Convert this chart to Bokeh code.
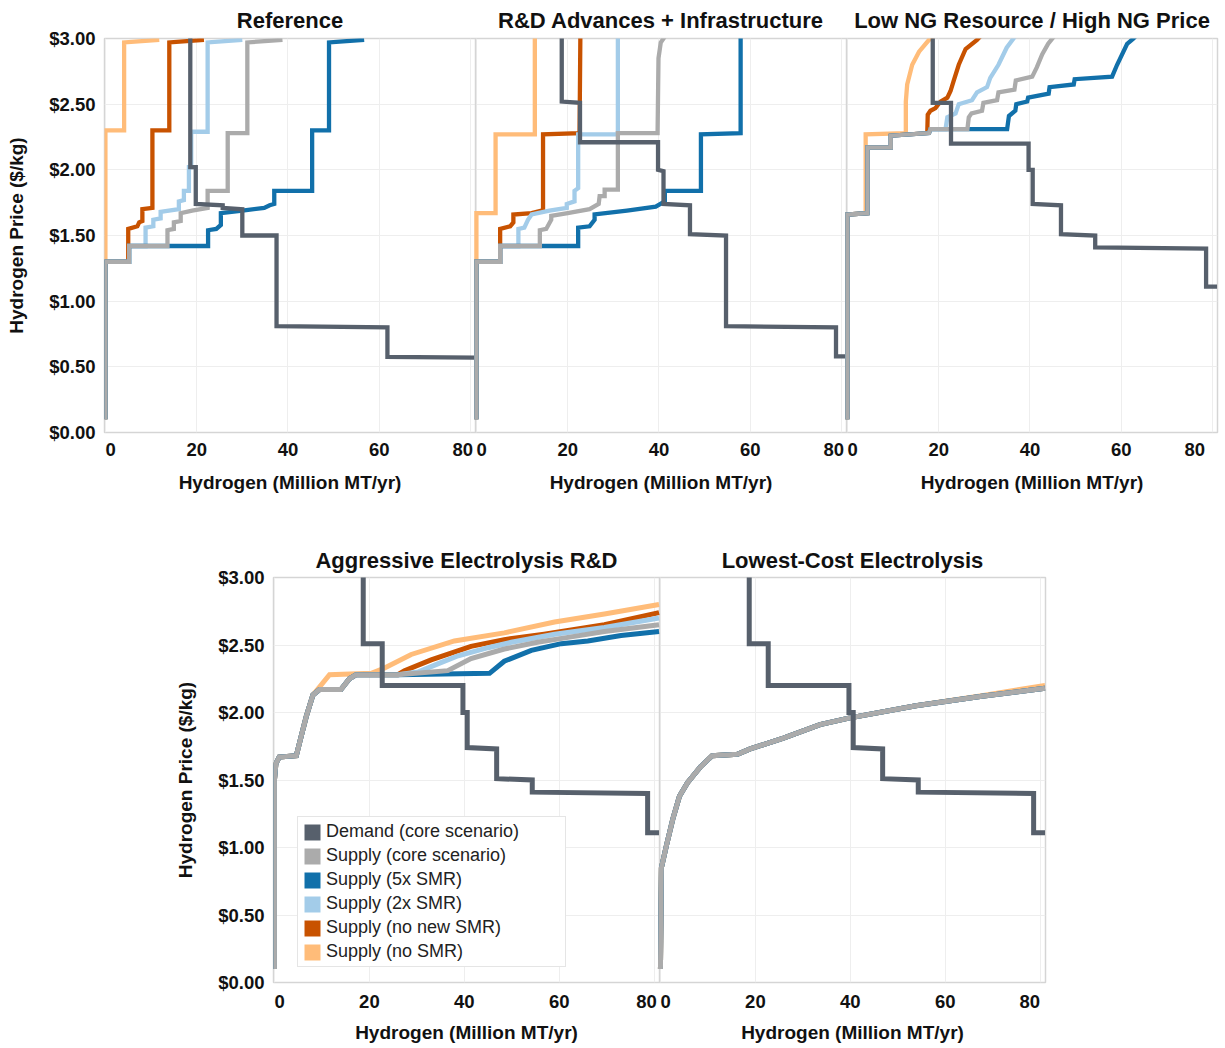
from bokeh.plotting import figure
from bokeh.models import (ColumnDataSource, Range1d, FixedTicker, NumeralTickFormatter,
                          Span, Legend, LegendItem, LinearAxis)
from bokeh.transform import dodge
from bokeh.embed import file_html
from bokeh.resources import INLINE

# ---------------- data ----------------
x_ticks = [0, 20, 40, 60, 80]
y_ticks = [0.0, 0.5, 1.0, 1.5, 2.0, 2.5, 3.0]

top_titles = ["Reference", "R&D Advances + Infrastructure", "Low NG Resource / High NG Price"]
bottom_titles = ["Aggressive Electrolysis R&D", "Lowest-Cost Electrolysis"]
x_title = "Hydrogen (Million MT/yr)"
y_title = "Hydrogen Price ($/kg)"

series_labels = ["Demand (core scenario)", "Supply (core scenario)", "Supply (5x SMR)",
                 "Supply (2x SMR)", "Supply (no new SMR)", "Supply (no SMR)"]

# Reference
ref_demand_x = [18.6, 18.6, 19.8, 19.8, 25.7, 25.7, 30.0, 30.0, 37.5, 37.5, 61.8, 61.8, 81.0]
ref_demand_y = [3.10, 2.02, 2.02, 1.74, 1.73, 1.71, 1.70, 1.50, 1.50, 0.81, 0.80, 0.575, 0.57]
ref_core_x = [0, 0, 5.2, 5.2, 13.6, 13.6, 15.0, 15.0, 16.5, 16.5, 19.0, 22.4, 22.4, 26.8, 26.8, 31.1, 31.1, 38.8]
ref_core_y = [0.1, 1.30, 1.30, 1.42, 1.42, 1.54, 1.55, 1.60, 1.61, 1.67, 1.69, 1.71, 1.84, 1.84, 2.28, 2.28, 2.97, 2.99]
ref_smr5_x = [0, 0, 5.2, 5.2, 22.5, 22.5, 24.3, 25.3, 25.3, 30.0, 34.8, 36.0, 37.0, 37.0, 45.3, 45.3, 49.0, 49.0, 56.7]
ref_smr5_y = [0.1, 1.30, 1.30, 1.42, 1.42, 1.54, 1.55, 1.58, 1.67, 1.69, 1.71, 1.73, 1.74, 1.84, 1.84, 2.30, 2.30, 2.97, 2.99]
ref_smr2_x = [0, 0, 5.2, 5.2, 8.8, 8.8, 10.5, 10.5, 12.1, 12.1, 16.1, 16.1, 17.2, 17.2, 18.3, 18.3, 18.8, 18.8, 22.4, 22.4, 30.0]
ref_smr2_y = [0.1, 1.30, 1.30, 1.42, 1.42, 1.56, 1.57, 1.62, 1.63, 1.68, 1.70, 1.76, 1.77, 1.84, 1.84, 2.02, 2.02, 2.29, 2.29, 2.97, 2.99]
ref_nonew_x = [0, 0, 5.0, 5.0, 7.0, 7.4, 8.1, 8.1, 10.3, 10.3, 14.0, 14.0, 21.6]
ref_nonew_y = [0.1, 1.30, 1.30, 1.55, 1.57, 1.60, 1.61, 1.70, 1.71, 2.30, 2.30, 2.97, 2.99]
ref_nosmr_x = [0, 0, 4.1, 4.1, 11.8]
ref_nosmr_y = [0.1, 2.30, 2.30, 2.97, 2.99]

# R&D Advances + Infrastructure
rdi_demand_x = [18.7, 18.7, 22.7, 22.7, 39.8, 39.8, 41.0, 41.0, 46.8, 46.8, 54.7, 54.7, 78.8, 78.8, 81.0]
rdi_demand_y = [3.10, 2.52, 2.51, 2.21, 2.21, 2.00, 1.99, 1.74, 1.73, 1.51, 1.50, 0.81, 0.80, 0.58, 0.58]
rdi_core_x = [0, 0, 5.2, 5.2, 13.9, 13.9, 15.3, 16.4, 16.4, 20.0, 24.8, 26.8, 27.0, 28.1, 28.1, 31.0, 31.0, 39.7, 39.9, 40.4, 41.6]
rdi_core_y = [0.1, 1.30, 1.30, 1.42, 1.42, 1.54, 1.55, 1.62, 1.65, 1.67, 1.70, 1.74, 1.80, 1.80, 1.85, 1.85, 2.28, 2.28, 2.85, 2.97, 3.03]
rdi_smr5_x = [0, 0, 5.2, 5.2, 22.3, 22.3, 24.8, 25.9, 25.9, 33.0, 39.3, 40.8, 41.3, 41.3, 49.2, 49.2, 57.9, 57.9]
rdi_smr5_y = [0.1, 1.30, 1.30, 1.42, 1.42, 1.56, 1.57, 1.62, 1.66, 1.69, 1.72, 1.75, 1.76, 1.84, 1.84, 2.27, 2.28, 3.10]
rdi_smr2_x = [0, 0, 5.2, 5.2, 9.2, 9.2, 10.5, 11.3, 12.1, 16.0, 19.8, 19.8, 21.5, 21.5, 22.3, 22.3, 31.0, 31.0]
rdi_smr2_y = [0.1, 1.30, 1.30, 1.42, 1.42, 1.55, 1.56, 1.62, 1.66, 1.69, 1.71, 1.74, 1.76, 1.84, 1.86, 2.27, 2.27, 3.10]
rdi_nonew_x = [0, 0, 5.2, 5.2, 7.4, 8.1, 8.1, 12.1, 14.3, 14.6, 14.6, 22.6, 22.8]
rdi_nonew_y = [0.1, 1.30, 1.30, 1.55, 1.57, 1.60, 1.66, 1.67, 1.69, 1.70, 2.27, 2.28, 3.10]
rdi_nosmr_x = [0, 0, 4.2, 4.2, 12.8, 12.8]
rdi_nosmr_y = [0.1, 1.67, 1.67, 2.27, 2.27, 3.10]

# Core demand (used in the last three scenarios)
core_demand_x = [18.7, 18.7, 22.7, 22.7, 39.7, 39.7, 40.6, 40.6, 46.8, 46.8, 54.3, 54.3, 78.6, 78.6, 81.0]
core_demand_y = [3.10, 2.51, 2.51, 2.20, 2.20, 2.00, 2.00, 1.74, 1.73, 1.51, 1.50, 1.41, 1.40, 1.11, 1.11]

# Low NG Resource / High NG Price
lng_core_x = [0, 0, 4.4, 4.4, 9.5, 9.5, 17.9, 18.2, 26.3, 26.6, 27.2, 29.5, 29.8, 32.8, 33.1, 36.6, 36.9, 40.5, 41.5, 42.7, 44.0, 45.6]
lng_core_y = [0.1, 1.66, 1.67, 2.17, 2.17, 2.26, 2.28, 2.31, 2.31, 2.40, 2.43, 2.45, 2.51, 2.53, 2.59, 2.61, 2.68, 2.71, 2.78, 2.88, 2.96, 3.03]
lng_smr5_x = [0, 0, 4.4, 4.4, 9.5, 9.5, 17.9, 18.2, 35.0, 35.4, 36.8, 37.0, 39.4, 39.6, 44.1, 44.3, 49.6, 49.8, 58.0, 59.1, 61.3, 62.7, 63.5]
lng_smr5_y = [0.1, 1.66, 1.67, 2.17, 2.17, 2.26, 2.28, 2.31, 2.31, 2.41, 2.45, 2.50, 2.52, 2.55, 2.58, 2.63, 2.65, 2.69, 2.71, 2.80, 2.96, 3.00, 3.03]
lng_smr2_x = [0, 0, 4.4, 4.4, 9.5, 9.5, 17.9, 18.2, 21.5, 21.9, 23.7, 24.4, 27.3, 28.4, 30.6, 31.3, 33.1, 34.9, 36.4, 37.5]
lng_smr2_y = [0.1, 1.66, 1.67, 2.17, 2.17, 2.26, 2.28, 2.31, 2.31, 2.40, 2.43, 2.50, 2.53, 2.59, 2.63, 2.70, 2.80, 2.93, 3.00, 3.05]
lng_nonew_x = [0, 0, 4.4, 4.4, 9.5, 9.5, 17.5, 17.6, 18.2, 19.3, 20.4, 21.9, 22.6, 23.3, 24.4, 25.9, 28.4, 29.5]
lng_nonew_y = [0.1, 1.66, 1.67, 2.17, 2.17, 2.26, 2.28, 2.42, 2.45, 2.47, 2.52, 2.55, 2.60, 2.68, 2.80, 2.92, 2.99, 3.03]
lng_nosmr_x = [0, 0, 4.0, 4.0, 12.8, 12.8, 13.1, 14.2, 15.7, 17.9, 19.0]
lng_nosmr_y = [0.1, 1.66, 1.67, 2.27, 2.28, 2.52, 2.65, 2.80, 2.90, 2.99, 3.03]

# Aggressive Electrolysis R&D
aer_core_x = [0, 0, 0.3, 1.0, 4.6, 5.6, 6.7, 8.1, 9.5, 14.0, 15.8, 17.2, 26.0, 36.5, 41.4, 48.4, 55.4, 62.5, 69.5, 81.0]
aer_core_y = [0.1, 1.50, 1.62, 1.67, 1.68, 1.82, 1.97, 2.13, 2.17, 2.17, 2.25, 2.28, 2.28, 2.31, 2.40, 2.47, 2.52, 2.56, 2.60, 2.65]
aer_smr5_x = [0, 0, 0.3, 1.0, 4.6, 5.6, 6.7, 8.1, 9.5, 14.0, 15.8, 17.2, 26.0, 45.3, 48.4, 54.1, 60.4, 66.0, 73.0, 81.0]
aer_smr5_y = [0.1, 1.50, 1.62, 1.67, 1.68, 1.82, 1.97, 2.13, 2.17, 2.17, 2.25, 2.28, 2.28, 2.29, 2.38, 2.46, 2.51, 2.53, 2.57, 2.60]
aer_smr2_x = [0, 0, 0.3, 1.0, 4.6, 5.6, 6.7, 8.1, 9.5, 14.0, 15.8, 17.2, 26.0, 30.2, 34.4, 38.7, 45.0, 49.9, 59.0, 69.5, 81.0]
aer_smr2_y = [0.1, 1.50, 1.62, 1.67, 1.68, 1.82, 1.97, 2.13, 2.17, 2.17, 2.25, 2.28, 2.28, 2.30, 2.36, 2.42, 2.48, 2.52, 2.58, 2.63, 2.70]
aer_nonew_x = [0, 0, 0.3, 1.0, 4.6, 5.6, 6.7, 8.1, 9.5, 14.0, 15.8, 17.2, 26.0, 27.4, 33.0, 41.4, 48.4, 56.8, 69.5, 81.0]
aer_nonew_y = [0.1, 1.50, 1.62, 1.67, 1.68, 1.82, 1.97, 2.13, 2.17, 2.17, 2.25, 2.28, 2.28, 2.31, 2.39, 2.49, 2.54, 2.58, 2.65, 2.74]
aer_nosmr_x = [0, 0, 0.3, 1.0, 4.6, 5.6, 6.7, 8.1, 9.3, 11.6, 20.4, 23.2, 28.8, 37.9, 48.4, 59.0, 69.5, 81.0]
aer_nosmr_y = [0.1, 1.50, 1.62, 1.67, 1.68, 1.82, 1.97, 2.13, 2.18, 2.28, 2.29, 2.33, 2.43, 2.53, 2.59, 2.67, 2.73, 2.80]

# Lowest-Cost Electrolysis (all supply cases coincide)
lce_supply_x = [0, 0.2, 1.3, 2.6, 4.0, 5.7, 8.5, 10.9, 16.2, 18.9, 25.9, 33.6, 39.9, 53.8, 67.7, 81.0]
lce_supply_y = [0.1, 0.85, 1.02, 1.21, 1.38, 1.48, 1.60, 1.68, 1.69, 1.73, 1.81, 1.91, 1.96, 2.05, 2.12, 2.18]
lce_nosmr_y = [0.1, 0.85, 1.02, 1.21, 1.38, 1.48, 1.60, 1.68, 1.69, 1.73, 1.81, 1.91, 1.96, 2.05, 2.125, 2.20]

# ---------------- styling ----------------
FONT = "Liberation Sans"
TXT = "#111111"
C_DEMAND = "#57606c"
C_CORE = "#ababab"
C_SMR5 = "#1170aa"
C_SMR2 = "#a3cce9"
C_NONEW = "#c85200"
C_NOSMR = "#ffbc79"
series_colors = [C_DEMAND, C_CORE, C_SMR5, C_SMR2, C_NONEW, C_NOSMR]

W = 81.3      # width of one small multiple (data units)
X0 = -0.2     # left edge of a panel relative to its own zero
NB = "\u00a0"

top_panels = [
    [(ref_nosmr_x, ref_nosmr_y, C_NOSMR), (ref_nonew_x, ref_nonew_y, C_NONEW), (ref_smr2_x, ref_smr2_y, C_SMR2),
     (ref_smr5_x, ref_smr5_y, C_SMR5), (ref_core_x, ref_core_y, C_CORE), (ref_demand_x, ref_demand_y, C_DEMAND)],
    [(rdi_nosmr_x, rdi_nosmr_y, C_NOSMR), (rdi_nonew_x, rdi_nonew_y, C_NONEW), (rdi_smr2_x, rdi_smr2_y, C_SMR2),
     (rdi_smr5_x, rdi_smr5_y, C_SMR5), (rdi_core_x, rdi_core_y, C_CORE), (rdi_demand_x, rdi_demand_y, C_DEMAND)],
    [(lng_nosmr_x, lng_nosmr_y, C_NOSMR), (lng_nonew_x, lng_nonew_y, C_NONEW), (lng_smr2_x, lng_smr2_y, C_SMR2),
     (lng_smr5_x, lng_smr5_y, C_SMR5), (lng_core_x, lng_core_y, C_CORE), (core_demand_x, core_demand_y, C_DEMAND)],
]
bottom_panels = [
    [(aer_nosmr_x, aer_nosmr_y, C_NOSMR), (aer_nonew_x, aer_nonew_y, C_NONEW), (aer_smr2_x, aer_smr2_y, C_SMR2),
     (aer_smr5_x, aer_smr5_y, C_SMR5), (aer_core_x, aer_core_y, C_CORE), (core_demand_x, core_demand_y, C_DEMAND)],
    [(lce_supply_x, lce_nosmr_y, C_NOSMR), (lce_supply_x, lce_supply_y, C_NONEW), (lce_supply_x, lce_supply_y, C_SMR2),
     (lce_supply_x, lce_supply_y, C_SMR5), (lce_supply_x, lce_supply_y, C_CORE), (core_demand_x, core_demand_y, C_DEMAND)],
]


def plain_axis(ax):
    ax.axis_line_color = None
    ax.major_tick_line_color = None
    ax.minor_tick_line_color = None
    ax.major_tick_out = 0
    ax.major_tick_in = 0
    ax.major_label_text_font = FONT
    ax.major_label_text_font_style = "bold"
    ax.major_label_text_color = TXT


def make_row(panels, titles, width, height, mb_left, mb_right, mb_top, mb_bottom,
             line_w, x_standoff, title_standoff, xlab_standoff):
    n = len(panels)
    p = figure(width=width, height=height, x_range=Range1d(X0, n * W + X0), y_range=Range1d(0, 3.0),
               output_backend="svg", toolbar_location=None, title=None,
               min_border_left=mb_left, min_border_right=mb_right,
               min_border_top=mb_top, min_border_bottom=mb_bottom)
    p.background_fill_color = "white"
    p.border_fill_color = "white"
    p.outline_line_color = "#d5d5d5"
    p.outline_line_width = 1.5

    ticks = []
    overrides = {}
    for k in range(n):
        for t in x_ticks:
            key = round(k * W + t, 4)
            ticks.append(key)
            lab = str(t)
            if t == 0:
                lab = NB * 2 + lab
            if t == x_ticks[-1]:
                lab = lab + NB * 3
            overrides[key] = lab
    p.xaxis.ticker = FixedTicker(ticks=ticks)
    p.xaxis.major_label_overrides = overrides
    p.yaxis.ticker = FixedTicker(ticks=y_ticks)
    p.yaxis.formatter = NumeralTickFormatter(format="$0.00")

    for ax in (p.xaxis[0], p.yaxis[0]):
        plain_axis(ax)
        ax.major_label_text_font_size = "18.5px"
    p.xaxis.major_label_standoff = x_standoff
    p.yaxis.major_label_standoff = 9
    p.yaxis.axis_label = y_title
    p.yaxis.axis_label_text_font = FONT
    p.yaxis.axis_label_text_font_style = "bold"
    p.yaxis.axis_label_text_font_size = "19px"
    p.yaxis.axis_label_text_color = TXT
    p.yaxis.axis_label_standoff = 19

    p.xgrid.grid_line_color = "#eeeeee"
    p.ygrid.grid_line_color = "#eeeeee"

    # panel centres carry the panel titles (above) and the x-axis titles (below)
    centers = [round(k * W + X0 + W / 2, 4) for k in range(n)]
    title_axis = LinearAxis(ticker=FixedTicker(ticks=centers),
                            major_label_overrides={c: t for c, t in zip(centers, titles)})
    plain_axis(title_axis)
    title_axis.major_label_text_font_size = "22px"
    title_axis.major_label_standoff = title_standoff
    p.add_layout(title_axis, "above")

    xlab_axis = LinearAxis(ticker=FixedTicker(ticks=centers),
                           major_label_overrides={c: x_title for c in centers})
    plain_axis(xlab_axis)
    xlab_axis.major_label_text_font_size = "19px"
    xlab_axis.major_label_standoff = xlab_standoff
    p.add_layout(xlab_axis, "below")

    for k in range(1, n):
        p.add_layout(Span(location=k * W + X0, dimension="height", line_color="#d5d5d5",
                          line_width=1.5, level="underlay"))

    for k, series in enumerate(panels):
        for xs, ys, col in series:
            src = ColumnDataSource(data=dict(x=xs, y=ys))
            p.line(x=dodge("x", k * W), y="y", source=src, line_color=col,
                   line_width=line_w, line_join="miter")
    return p


# top row: frame 104..1217 x 38..432 ; bottom row: frame 273..1045 x 577..982
p1 = make_row(top_panels, top_titles, width=1220, height=498, mb_left=104, mb_right=3,
              mb_top=38, mb_bottom=66, line_w=4.3, x_standoff=6, title_standoff=6, xlab_standoff=9)
p2 = make_row(bottom_panels, bottom_titles, width=1055, height=548, mb_left=273, mb_right=10,
              mb_top=79, mb_bottom=64, line_w=5, x_standoff=8, title_standoff=5, xlab_standoff=7)

# legend with square swatches (swatch renderers hold no drawable data)
nan = float("nan")
items = []
for name, col in zip(series_labels, series_colors):
    r = p2.quad(left=[nan], right=[nan], top=[nan], bottom=[nan], fill_color=col, line_color=None)
    items.append(LegendItem(label=name, renderers=[r]))
legend = Legend(items=items, location=(24, 15), margin=0, padding=4, spacing=3,
                glyph_width=20, glyph_height=20, label_standoff=4, label_width=235, label_height=20,
                label_text_font=FONT, label_text_font_size="18px", label_text_color="#222222",
                border_line_color="#cccccc", border_line_width=1,
                background_fill_color="white", background_fill_alpha=1.0)
p2.add_layout(legend)

with open("out.html", "w") as f:
    f.write(file_html([p1, p2], INLINE, title="Hydrogen supply and demand"))
